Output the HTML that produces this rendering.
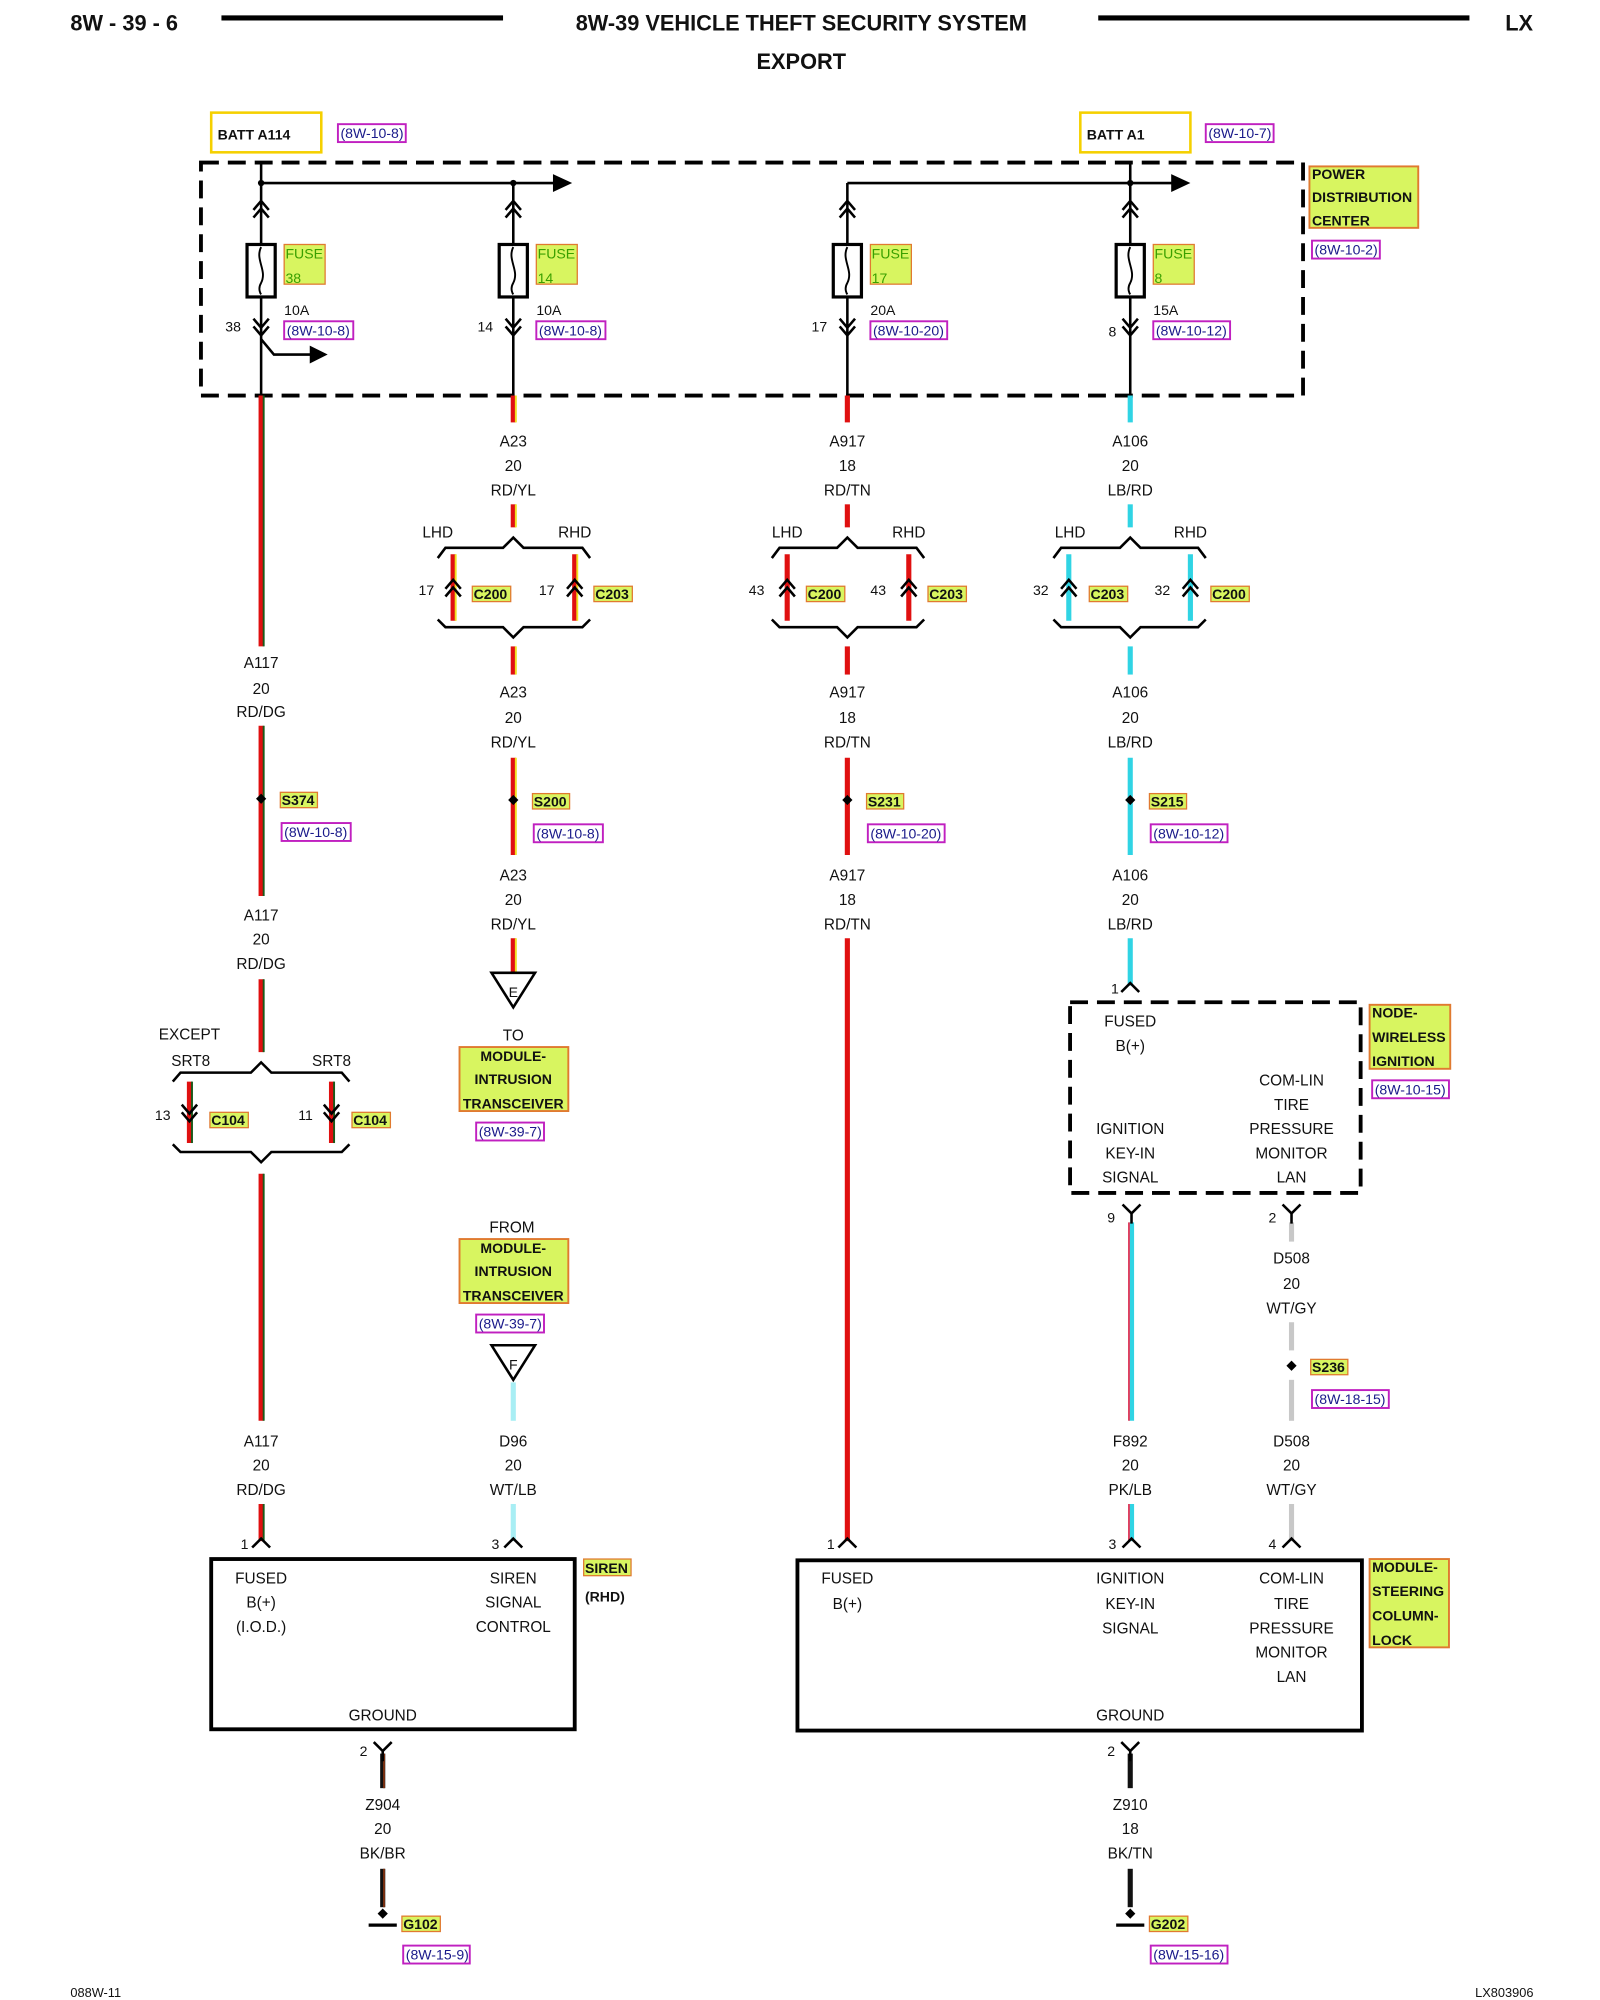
<!DOCTYPE html>
<html><head><meta charset="utf-8"><style>
html,body{margin:0;padding:0;background:#fff;}
svg{display:block}
text{font-family:"Liberation Sans",sans-serif;font-size:12px;fill:#111;}
.c{text-anchor:middle}
.b{font-weight:bold}
.ref{fill:#1a1a8a;font-size:11px}
.lab{font-weight:bold;font-size:11px}
</style></head><body>
<svg width="1600" height="2000" viewBox="0 0 1250 1562.5" xmlns="http://www.w3.org/2000/svg">
<defs>
<path id="cu" d="M-6,7 L0,0 L6,7 M-6,13 L0,6 L6,13" fill="none" stroke="#000" stroke-width="2"/>
<path id="cd" d="M-6,-7 L0,0 L6,-7 M-6,-13 L0,-6 L6,-13" fill="none" stroke="#000" stroke-width="2"/>
<path id="pin" d="M-7,7 L0,0 L7,7" fill="none" stroke="#000" stroke-width="2"/>
<path id="piny" d="M-7,-7 L0,0 L7,-7 M0,0 L0,8" fill="none" stroke="#000" stroke-width="2"/>
</defs>

<!-- header -->
<text x="55" y="24" class="b" style="font-size:17px">8W - 39 - 6</text>
<line x1="173" y1="14" x2="393" y2="14" stroke="#000" stroke-width="4"/>
<text x="626" y="24" class="b c" style="font-size:17px">8W-39 VEHICLE THEFT SECURITY SYSTEM</text>
<line x1="858" y1="14" x2="1148" y2="14" stroke="#000" stroke-width="4"/>
<text x="1176" y="24" class="b" style="font-size:17px">LX</text>
<text x="626" y="54" class="b c" style="font-size:17px">EXPORT</text>

<!-- batt -->
<rect x="165" y="88" width="86" height="31" fill="#fff" stroke="#f5d000" stroke-width="2"/>
<text x="170" y="109" class="b" style="font-size:11px">BATT A114</text>
<rect x="264" y="97" width="53" height="14" fill="none" stroke="#c020c0" stroke-width="1.5"/>
<text x="266" y="108" class="ref">(8W-10-8)</text>
<rect x="844" y="88" width="86" height="31" fill="#fff" stroke="#f5d000" stroke-width="2"/>
<text x="849" y="109" class="b" style="font-size:11px">BATT A1</text>
<rect x="942" y="97" width="53" height="14" fill="none" stroke="#c020c0" stroke-width="1.5"/>
<text x="944" y="108" class="ref">(8W-10-7)</text>

<!-- PDC -->
<rect x="157" y="127" width="861" height="182" fill="none" stroke="#000" stroke-width="3" stroke-dasharray="14,7"/>
<rect x="1023" y="130" width="85" height="48" fill="#d8f560" stroke="#e07a30" stroke-width="1.5"/>
<text x="1025" y="140" class="lab">POWER</text>
<text x="1025" y="158" class="lab">DISTRIBUTION</text>
<text x="1025" y="176" class="lab">CENTER</text>
<rect x="1025" y="188" width="53" height="14" fill="none" stroke="#c020c0" stroke-width="1.5"/>
<text x="1027" y="199" class="ref">(8W-10-2)</text>

<line x1="204" y1="143" x2="435" y2="143" stroke="#000" stroke-width="2"/>
<path d="M432,136 L447,143 L432,150Z" fill="#000"/>
<line x1="662" y1="143" x2="918" y2="143" stroke="#000" stroke-width="2"/>
<path d="M915,136 L930,143 L915,150Z" fill="#000"/>
<circle cx="204" cy="143" r="2.5"/><circle cx="401" cy="143" r="2.5"/><circle cx="883" cy="143" r="2.5"/>

<!-- fuse columns -->
<g stroke="#000" stroke-width="2" fill="none">
<line x1="204" y1="127" x2="204" y2="309"/>
<line x1="401" y1="143" x2="401" y2="309"/>
<line x1="662" y1="143" x2="662" y2="309"/>
<line x1="883" y1="127" x2="883" y2="309"/>
<path d="M204,265 L214,277 L245,277"/>
</g>
<path d="M242,270 L256,277 L242,284Z" fill="#000"/>
<g fill="#fff" stroke="#000" stroke-width="2.5">
<rect x="193" y="191" width="22" height="41"/><rect x="390" y="191" width="22" height="41"/>
<rect x="651" y="191" width="22" height="41"/><rect x="872" y="191" width="22" height="41"/>
</g>
<g fill="none" stroke="#000" stroke-width="1.5">
<path d="M204,193 C199,203 209,211 204,221 C201,226 204,230 204,230"/>
<path d="M401,193 C396,203 406,211 401,221 C398,226 401,230 401,230"/>
<path d="M662,193 C657,203 667,211 662,221 C659,226 662,230 662,230"/>
<path d="M883,193 C878,203 888,211 883,221 C880,226 883,230 883,230"/>
</g>
<use href="#cu" x="204" y="157"/><use href="#cu" x="401" y="157"/><use href="#cu" x="662" y="157"/><use href="#cu" x="883" y="157"/>
<use href="#cd" x="204" y="262"/><use href="#cd" x="401" y="262"/><use href="#cd" x="662" y="262"/><use href="#cd" x="883" y="262"/>
<g>
<rect x="222" y="191" width="32" height="31" fill="#d8f560" stroke="#e07a30"/>
<rect x="419" y="191" width="32" height="31" fill="#d8f560" stroke="#e07a30"/>
<rect x="680" y="191" width="32" height="31" fill="#d8f560" stroke="#e07a30"/>
<rect x="901" y="191" width="32" height="31" fill="#d8f560" stroke="#e07a30"/>
</g>
<g>
<text x="223" y="202" style="fill:#3aa000;font-size:11px">FUSE</text><text x="223" y="221" style="fill:#3aa000;font-size:11px">38</text>
<text x="420" y="202" style="fill:#3aa000;font-size:11px">FUSE</text><text x="420" y="221" style="fill:#3aa000;font-size:11px">14</text>
<text x="681" y="202" style="fill:#3aa000;font-size:11px">FUSE</text><text x="681" y="221" style="fill:#3aa000;font-size:11px">17</text>
<text x="902" y="202" style="fill:#3aa000;font-size:11px">FUSE</text><text x="902" y="221" style="fill:#3aa000;font-size:11px">8</text>
</g>
<text x="222" y="246" style="font-size:11px">10A</text><text x="419" y="246" style="font-size:11px">10A</text>
<text x="680" y="246" style="font-size:11px">20A</text><text x="901" y="246" style="font-size:11px">15A</text>
<text x="176" y="259" style="font-size:11px">38</text><text x="373" y="259" style="font-size:11px">14</text>
<text x="634" y="259" style="font-size:11px">17</text><text x="866" y="263" style="font-size:11px">8</text>
<g fill="none" stroke="#c020c0" stroke-width="1.5">
<rect x="222" y="251" width="54" height="14"/><rect x="419" y="251" width="54" height="14"/>
<rect x="680" y="251" width="60" height="14"/><rect x="901" y="251" width="60" height="14"/>
</g>
<text x="224" y="262" class="ref">(8W-10-8)</text><text x="421" y="262" class="ref">(8W-10-8)</text>
<text x="682" y="262" class="ref">(8W-10-20)</text><text x="903" y="262" class="ref">(8W-10-12)</text>

<!-- WIRES -->
<g stroke-width="4">
<g stroke="#e01010">
<line x1="204" y1="309" x2="204" y2="505"/><line x1="204" y1="567" x2="204" y2="700"/><line x1="204" y1="765" x2="204" y2="822"/>
<line x1="148" y1="845" x2="148" y2="893"/><line x1="259" y1="845" x2="259" y2="893"/>
<line x1="204" y1="917" x2="204" y2="1110"/><line x1="204" y1="1175" x2="204" y2="1204"/>
<line x1="401" y1="309" x2="401" y2="330"/><line x1="401" y1="394" x2="401" y2="412"/>
<line x1="354" y1="433" x2="354" y2="485"/><line x1="449" y1="433" x2="449" y2="485"/>
<line x1="401" y1="505" x2="401" y2="527"/><line x1="401" y1="592" x2="401" y2="668"/><line x1="401" y1="733" x2="401" y2="760"/>
<line x1="662" y1="309" x2="662" y2="330"/><line x1="662" y1="394" x2="662" y2="412"/>
<line x1="615" y1="433" x2="615" y2="485"/><line x1="710" y1="433" x2="710" y2="485"/>
<line x1="662" y1="505" x2="662" y2="527"/><line x1="662" y1="592" x2="662" y2="668"/><line x1="662" y1="733" x2="662" y2="1204"/>
</g>
<g stroke="#30d4e4">
<line x1="883" y1="309" x2="883" y2="330"/><line x1="883" y1="394" x2="883" y2="412"/>
<line x1="835" y1="433" x2="835" y2="485"/><line x1="930" y1="433" x2="930" y2="485"/>
<line x1="883" y1="505" x2="883" y2="527"/><line x1="883" y1="592" x2="883" y2="668"/><line x1="883" y1="733" x2="883" y2="770"/>
<line x1="884" y1="955" x2="884" y2="1110"/><line x1="884" y1="1175" x2="884" y2="1204"/>
</g>
<g stroke="#a8eef4"><line x1="401" y1="1080" x2="401" y2="1110"/><line x1="401" y1="1175" x2="401" y2="1204"/></g>
<g stroke="#c8c8c8"><line x1="1009" y1="955" x2="1009" y2="970"/><line x1="1009" y1="1033" x2="1009" y2="1055"/><line x1="1009" y1="1078" x2="1009" y2="1110"/><line x1="1009" y1="1175" x2="1009" y2="1204"/></g>
<g stroke="#111"><line x1="299" y1="1370" x2="299" y2="1397"/><line x1="299" y1="1460" x2="299" y2="1490"/><line x1="883" y1="1370" x2="883" y2="1397"/><line x1="883" y1="1460" x2="883" y2="1490"/></g>
</g>
<g stroke-width="1.5">
<g stroke="#1a5a1a"><line x1="206" y1="309" x2="206" y2="505"/><line x1="206" y1="567" x2="206" y2="700"/><line x1="206" y1="765" x2="206" y2="822"/><line x1="150" y1="845" x2="150" y2="893"/><line x1="261" y1="845" x2="261" y2="893"/><line x1="206" y1="917" x2="206" y2="1110"/><line x1="206" y1="1175" x2="206" y2="1204"/></g>
<g stroke="#f0e020"><line x1="403" y1="309" x2="403" y2="330"/><line x1="403" y1="394" x2="403" y2="412"/><line x1="356" y1="433" x2="356" y2="485"/><line x1="451" y1="433" x2="451" y2="485"/><line x1="403" y1="505" x2="403" y2="527"/><line x1="403" y1="592" x2="403" y2="668"/><line x1="403" y1="733" x2="403" y2="760"/></g>
<g stroke="#e04060"><line x1="882" y1="955" x2="882" y2="1110"/><line x1="882" y1="1175" x2="882" y2="1204"/></g>
<g stroke="#7a3010"><line x1="300" y1="1370" x2="300" y2="1397"/><line x1="300" y1="1460" x2="300" y2="1490"/></g>
</g>

<!-- braces -->
<g fill="none" stroke="#000" stroke-width="2">
<path d="M342,436 L348,428 L393,428 L401,420 L409,428 L455,428 L461,436"/>
<path d="M342,484 L348,490 L393,490 L401,498 L409,490 L455,490 L461,484"/>
<path d="M603,436 L609,428 L654,428 L662,420 L670,428 L716,428 L722,436"/>
<path d="M603,484 L609,490 L654,490 L662,498 L670,490 L716,490 L722,484"/>
<path d="M823,436 L829,428 L875,428 L883,420 L891,428 L936,428 L942,436"/>
<path d="M823,484 L829,490 L875,490 L883,498 L891,490 L936,490 L942,484"/>
<path d="M135,845 L141,838 L196,838 L204,830 L212,838 L267,838 L273,845"/>
<path d="M135,894 L141,900 L196,900 L204,908 L212,900 L267,900 L273,894"/>
</g>
<use href="#cu" x="354" y="453"/><use href="#cu" x="449" y="453"/><use href="#cu" x="615" y="453"/><use href="#cu" x="710" y="453"/>
<use href="#cu" x="835" y="453"/><use href="#cu" x="930" y="453"/>
<use href="#cd" x="148" y="876"/><use href="#cd" x="259" y="876"/>
<text x="342" y="420" class="c">LHD</text><text x="449" y="420" class="c">RHD</text>
<text x="615" y="420" class="c">LHD</text><text x="710" y="420" class="c">RHD</text>
<text x="836" y="420" class="c">LHD</text><text x="930" y="420" class="c">RHD</text>
<text x="327" y="465" style="font-size:11px">17</text><text x="421" y="465" style="font-size:11px">17</text>
<text x="585" y="465" style="font-size:11px">43</text><text x="680" y="465" style="font-size:11px">43</text>
<text x="807" y="465" style="font-size:11px">32</text><text x="902" y="465" style="font-size:11px">32</text>
<text x="124" y="812">EXCEPT</text><text x="149" y="833" class="c">SRT8</text><text x="259" y="833" class="c">SRT8</text>
<text x="121" y="875" style="font-size:11px">13</text><text x="233" y="875" style="font-size:11px">11</text>

<!-- small labels -->
<g fill="#d8f560" stroke="#e07a30" stroke-width="1">
<rect x="369" y="458" width="30" height="12"/><rect x="464" y="458" width="30" height="12"/>
<rect x="630" y="458" width="30" height="12"/><rect x="725" y="458" width="30" height="12"/>
<rect x="851" y="458" width="30" height="12"/><rect x="946" y="458" width="30" height="12"/>
<rect x="164" y="869" width="30" height="12"/><rect x="275" y="869" width="30" height="12"/>
<rect x="219" y="619" width="29" height="12"/><rect x="416" y="620" width="29" height="12"/>
<rect x="677" y="620" width="29" height="12"/><rect x="898" y="620" width="29" height="12"/>
<rect x="1024" y="1062" width="29" height="12"/>
<rect x="314" y="1497" width="30" height="12"/><rect x="898" y="1497" width="30" height="12"/>
<rect x="456" y="1218" width="37" height="13"/>
</g>
<g class="lab">
<text x="370" y="468" class="lab">C200</text><text x="465" y="468" class="lab">C203</text>
<text x="631" y="468" class="lab">C200</text><text x="726" y="468" class="lab">C203</text>
<text x="852" y="468" class="lab">C203</text><text x="947" y="468" class="lab">C200</text>
<text x="165" y="879" class="lab">C104</text><text x="276" y="879" class="lab">C104</text>
<text x="220" y="629" class="lab">S374</text><text x="417" y="630" class="lab">S200</text>
<text x="678" y="630" class="lab">S231</text><text x="899" y="630" class="lab">S215</text>
<text x="1025" y="1072" class="lab">S236</text>
<text x="315" y="1507" class="lab">G102</text><text x="899" y="1507" class="lab">G202</text>
<text x="457" y="1229" class="lab">SIREN</text>
</g>
<text x="457" y="1251" class="b" style="font-size:11px">(RHD)</text>
<!-- refs -->
<g fill="none" stroke="#c020c0" stroke-width="1.5">
<rect x="220" y="643" width="54" height="14"/><rect x="417" y="644" width="54" height="14"/>
<rect x="678" y="644" width="60" height="14"/><rect x="899" y="644" width="60" height="14"/>
<rect x="1025" y="1086" width="60" height="14"/>
<rect x="372" y="877" width="53" height="14"/><rect x="372" y="1027" width="53" height="14"/>
<rect x="1072" y="844" width="60" height="14"/>
<rect x="315" y="1520" width="52" height="14"/><rect x="899" y="1520" width="60" height="14"/>
</g>
<text x="222" y="654" class="ref">(8W-10-8)</text><text x="419" y="655" class="ref">(8W-10-8)</text>
<text x="680" y="655" class="ref">(8W-10-20)</text><text x="901" y="655" class="ref">(8W-10-12)</text>
<text x="1027" y="1097" class="ref">(8W-18-15)</text>
<text x="374" y="888" class="ref">(8W-39-7)</text><text x="374" y="1038" class="ref">(8W-39-7)</text>
<text x="1074" y="855" class="ref">(8W-10-15)</text>
<text x="317" y="1531" class="ref">(8W-15-9)</text><text x="901" y="1531" class="ref">(8W-15-16)</text>

<!-- splices -->
<g fill="#000">
<path d="M204,620 l4,4 l-4,4 l-4,-4z"/><path d="M401,621 l4,4 l-4,4 l-4,-4z"/>
<path d="M662,621 l4,4 l-4,4 l-4,-4z"/><path d="M883,621 l4,4 l-4,4 l-4,-4z"/>
<path d="M1009,1063 l4,4 l-4,4 l-4,-4z"/>
</g>

<!-- wire labels -->
<g>
<text x="204" y="522" class="c">A117</text><text x="204" y="542" class="c">20</text><text x="204" y="560" class="c">RD/DG</text>
<text x="204" y="719" class="c">A117</text><text x="204" y="738" class="c">20</text><text x="204" y="757" class="c">RD/DG</text>
<text x="204" y="1130" class="c">A117</text><text x="204" y="1149" class="c">20</text><text x="204" y="1168" class="c">RD/DG</text>
<text x="401" y="349" class="c">A23</text><text x="401" y="368" class="c">20</text><text x="401" y="387" class="c">RD/YL</text>
<text x="401" y="545" class="c">A23</text><text x="401" y="565" class="c">20</text><text x="401" y="584" class="c">RD/YL</text>
<text x="401" y="688" class="c">A23</text><text x="401" y="707" class="c">20</text><text x="401" y="726" class="c">RD/YL</text>
<text x="401" y="1130" class="c">D96</text><text x="401" y="1149" class="c">20</text><text x="401" y="1168" class="c">WT/LB</text>
<text x="662" y="349" class="c">A917</text><text x="662" y="368" class="c">18</text><text x="662" y="387" class="c">RD/TN</text>
<text x="662" y="545" class="c">A917</text><text x="662" y="565" class="c">18</text><text x="662" y="584" class="c">RD/TN</text>
<text x="662" y="688" class="c">A917</text><text x="662" y="707" class="c">18</text><text x="662" y="726" class="c">RD/TN</text>
<text x="883" y="349" class="c">A106</text><text x="883" y="368" class="c">20</text><text x="883" y="387" class="c">LB/RD</text>
<text x="883" y="545" class="c">A106</text><text x="883" y="565" class="c">20</text><text x="883" y="584" class="c">LB/RD</text>
<text x="883" y="688" class="c">A106</text><text x="883" y="707" class="c">20</text><text x="883" y="726" class="c">LB/RD</text>
<text x="883" y="1130" class="c">F892</text><text x="883" y="1149" class="c">20</text><text x="883" y="1168" class="c">PK/LB</text>
<text x="1009" y="987" class="c">D508</text><text x="1009" y="1007" class="c">20</text><text x="1009" y="1026" class="c">WT/GY</text>
<text x="1009" y="1130" class="c">D508</text><text x="1009" y="1149" class="c">20</text><text x="1009" y="1168" class="c">WT/GY</text>
<text x="299" y="1414" class="c">Z904</text><text x="299" y="1433" class="c">20</text><text x="299" y="1452" class="c">BK/BR</text>
<text x="883" y="1414" class="c">Z910</text><text x="883" y="1433" class="c">18</text><text x="883" y="1452" class="c">BK/TN</text>
</g>

<!-- E/F triangles and module labels -->
<path d="M384,760 L418,760 L401,787Z" fill="#fff" stroke="#000" stroke-width="2"/>
<text x="401" y="779" class="c" style="font-size:11px">E</text>
<path d="M384,1051 L418,1051 L401,1078Z" fill="#fff" stroke="#000" stroke-width="2"/>
<text x="401" y="1070" class="c" style="font-size:11px">F</text>
<text x="401" y="813" class="c">TO</text>
<rect x="359" y="818" width="85" height="50" fill="#d8f560" stroke="#e07a30" stroke-width="1.5"/>
<text x="401" y="829" class="c lab">MODULE-</text><text x="401" y="847" class="c lab">INTRUSION</text><text x="401" y="866" class="c lab">TRANSCEIVER</text>
<text x="400" y="963" class="c">FROM</text>
<rect x="359" y="968" width="85" height="50" fill="#d8f560" stroke="#e07a30" stroke-width="1.5"/>
<text x="401" y="979" class="c lab">MODULE-</text><text x="401" y="997" class="c lab">INTRUSION</text><text x="401" y="1016" class="c lab">TRANSCEIVER</text>

<!-- wireless ignition node -->
<rect x="836" y="783" width="227" height="149" fill="none" stroke="#000" stroke-width="3" stroke-dasharray="14,7"/>
<use href="#pin" x="883" y="768"/><text x="868" y="776" style="font-size:11px">1</text>
<use href="#piny" x="884" y="948"/><text x="865" y="955" style="font-size:11px">9</text>
<use href="#piny" x="1009" y="948"/><text x="991" y="955" style="font-size:11px">2</text>
<text x="883" y="802" class="c">FUSED</text><text x="883" y="821" class="c">B(+)</text>
<text x="1009" y="848" class="c">COM-LIN</text><text x="1009" y="867" class="c">TIRE</text><text x="1009" y="886" class="c">PRESSURE</text><text x="1009" y="905" class="c">MONITOR</text><text x="1009" y="924" class="c">LAN</text>
<text x="883" y="886" class="c">IGNITION</text><text x="883" y="905" class="c">KEY-IN</text><text x="883" y="924" class="c">SIGNAL</text>
<rect x="1070" y="785" width="63" height="50" fill="#d8f560" stroke="#e07a30" stroke-width="1.5"/>
<text x="1072" y="795" class="lab">NODE-</text><text x="1072" y="814" class="lab">WIRELESS</text><text x="1072" y="833" class="lab">IGNITION</text>

<!-- siren box -->
<rect x="165" y="1218" width="284" height="133" fill="none" stroke="#000" stroke-width="3"/>
<use href="#pin" x="204" y="1202"/><text x="188" y="1210" style="font-size:11px">1</text>
<use href="#pin" x="401" y="1202"/><text x="384" y="1210" style="font-size:11px">3</text>
<text x="204" y="1237" class="c">FUSED</text><text x="204" y="1256" class="c">B(+)</text><text x="204" y="1275" class="c">(I.O.D.)</text>
<text x="401" y="1237" class="c">SIREN</text><text x="401" y="1256" class="c">SIGNAL</text><text x="401" y="1275" class="c">CONTROL</text>
<text x="299" y="1344" class="c">GROUND</text>
<use href="#piny" x="299" y="1368"/><text x="281" y="1372" style="font-size:11px">2</text>
<path d="M299,1491 l4,4 l-4,4 l-4,-4z"/><line x1="288" y1="1504" x2="310" y2="1504" stroke="#000" stroke-width="2.5"/>

<!-- steering column lock box -->
<rect x="623" y="1219" width="441" height="133" fill="none" stroke="#000" stroke-width="3"/>
<use href="#pin" x="662" y="1202"/><text x="646" y="1210" style="font-size:11px">1</text>
<use href="#pin" x="884" y="1202"/><text x="866" y="1210" style="font-size:11px">3</text>
<use href="#pin" x="1009" y="1202"/><text x="991" y="1210" style="font-size:11px">4</text>
<text x="662" y="1237" class="c">FUSED</text><text x="662" y="1257" class="c">B(+)</text>
<text x="883" y="1237" class="c">IGNITION</text><text x="883" y="1257" class="c">KEY-IN</text><text x="883" y="1276" class="c">SIGNAL</text>
<text x="1009" y="1237" class="c">COM-LIN</text><text x="1009" y="1257" class="c">TIRE</text><text x="1009" y="1276" class="c">PRESSURE</text><text x="1009" y="1295" class="c">MONITOR</text><text x="1009" y="1314" class="c">LAN</text>
<text x="883" y="1344" class="c">GROUND</text>
<use href="#piny" x="883" y="1368"/><text x="865" y="1372" style="font-size:11px">2</text>
<path d="M883,1491 l4,4 l-4,4 l-4,-4z"/><line x1="872" y1="1504" x2="894" y2="1504" stroke="#000" stroke-width="2.5"/>
<rect x="1070" y="1218" width="62" height="69" fill="#d8f560" stroke="#e07a30" stroke-width="1.5"/>
<text x="1072" y="1228" class="lab">MODULE-</text><text x="1072" y="1247" class="lab">STEERING</text><text x="1072" y="1266" class="lab">COLUMN-</text><text x="1072" y="1285" class="lab">LOCK</text>

<!-- footer -->
<text x="55" y="1560" style="font-size:10px">088W-11</text>
<text x="1198" y="1560" style="font-size:10px;text-anchor:end">LX803906</text>
</svg>
</body></html>
